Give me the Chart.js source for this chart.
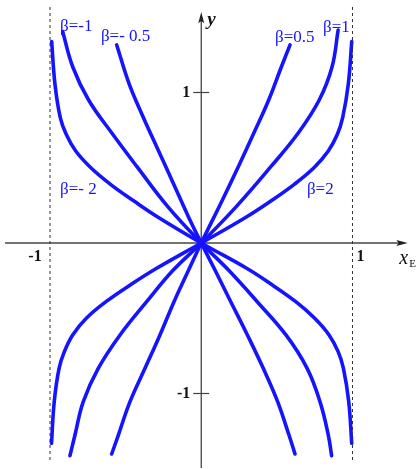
<!DOCTYPE html>
<html><head><meta charset="utf-8">
<script src="https://cdn.jsdelivr.net/npm/chart.js@4"></script>
<style>html,body{margin:0;padding:0;background:#fff}#wrap{width:419px;height:469px;position:relative}</style>
</head><body><div id="wrap"><canvas id="c"></canvas></div>
<script>
// Curve data (x_E, y), each curve runs from its lower end through the origin to its upper end
const betaLabels = ["β=2", "β=1", "β=0.5", "β=- 2", "β=-1", "β=- 0.5"];
const xBeta2 = [-0.990,-0.972,-0.940,-0.905,-0.850,-0.760,-0.630,-0.470,-0.295,0,0.290,0.460,0.615,0.745,0.840,0.900,0.935,0.972,0.995];
const yBeta2 = [-1.331,-1.054,-0.833,-0.722,-0.611,-0.500,-0.390,-0.279,-0.168,0,0.168,0.279,0.390,0.500,0.611,0.722,0.833,1.054,1.338];
const xBeta1 = [-0.868,-0.835,-0.780,-0.681,-0.537,-0.361,-0.185,0,0.230,0.460,0.640,0.780,0.865,0.905];
const yBeta1 = [-1.413,-1.276,-1.054,-0.833,-0.611,-0.390,-0.180,0,0.240,0.507,0.729,0.950,1.171,1.415];
const xBeta05 = [-0.592,-0.548,-0.471,-0.372,-0.273,-0.180,-0.078,0,0.140,0.245,0.347,0.446,0.530,0.587];
const yBeta05 = [-1.402,-1.276,-1.054,-0.833,-0.611,-0.390,-0.168,0,0.286,0.507,0.729,0.950,1.171,1.316];
const xBetaM2 = [0.995,0.975,0.940,0.905,0.845,0.750,0.625,0.470,0.300,0,-0.280,-0.445,-0.600,-0.730,-0.830,-0.893,-0.932,-0.967,-0.989];
const yBetaM2 = [-1.331,-1.054,-0.833,-0.722,-0.611,-0.500,-0.390,-0.279,-0.168,0,0.168,0.279,0.390,0.500,0.611,0.722,0.833,1.054,1.338];
const xBetaM1 = [0.862,0.840,0.785,0.700,0.560,0.370,0.180,0,-0.220,-0.425,-0.590,-0.745,-0.850,-0.916];
const yBetaM1 = [-1.413,-1.276,-1.054,-0.833,-0.611,-0.390,-0.180,0,0.240,0.507,0.729,0.950,1.171,1.404];
const xBetaM05 = [0.620,0.580,0.505,0.410,0.305,0.195,0.085,0,-0.085,-0.185,-0.285,-0.385,-0.478,-0.559];
const yBetaM05 = [-1.402,-1.276,-1.054,-0.833,-0.611,-0.390,-0.168,0,0.175,0.397,0.618,0.839,1.061,1.316];
// asymptote lines x_E = ±1
const asymX = [-1, 1];
const asymY = [-1.442, 1.568];
// tick labels
const xTicks = [-1, 1];
const yTicks = [-1, 1];

const curvesX = [xBeta2, xBeta1, xBeta05, xBetaM2, xBetaM1, xBetaM05];
const curvesY = [yBeta2, yBeta1, yBeta05, yBetaM2, yBetaM1, yBetaM05];
const zip = (xs, ys) => xs.map((x, i) => ({x, y: ys[i]}));
const BLUE = '#1414ff';

const datasets = [];
asymX.forEach(v => datasets.push({
  data: zip([v, v], asymY), showLine: true, borderColor: '#333', borderWidth: 1,
  borderDash: [3, 3], pointRadius: 0, tension: 0
}));
curvesX.forEach((xs, i) => datasets.push({
  label: betaLabels[i], data: zip(xs, curvesY[i]), showLine: true, borderColor: BLUE,
  borderWidth: 3.6, pointRadius: 0, tension: 0.4, borderCapStyle: 'round', borderJoinStyle: 'round'
}));

const labelPos = [
  {t: "β=2", x: 0.699, y: 0.326}, {t: "β=1", x: 0.805, y: 1.402}, {t: "β=0.5", x: 0.488, y: 1.336},
  {t: "β=- 2", x: -0.934, y: 0.326}, {t: "β=-1", x: -0.934, y: 1.409}, {t: "β=- 0.5", x: -0.663, y: 1.342}
];

const axesPlugin = {
  id: 'axes',
  beforeDatasetsDraw(chart) {
    const {ctx, scales: {x, y}} = chart;
    const X = v => x.getPixelForValue(v), Y = v => y.getPixelForValue(v);
    ctx.save();
    ctx.strokeStyle = '#444'; ctx.fillStyle = '#222'; ctx.lineWidth = 1.3;
    // x axis
    ctx.beginPath(); ctx.moveTo(X(-1.297), Y(0)); ctx.lineTo(X(1.33), Y(0)); ctx.stroke();
    ctx.beginPath(); ctx.moveTo(X(1.365), Y(0)); ctx.lineTo(X(1.29), Y(0) - 3); ctx.lineTo(X(1.305), Y(0)); ctx.lineTo(X(1.29), Y(0) + 3); ctx.closePath(); ctx.fill();
    // y axis
    ctx.beginPath(); ctx.moveTo(X(0), Y(-1.495)); ctx.lineTo(X(0), Y(1.48)); ctx.stroke();
    ctx.beginPath(); ctx.moveTo(X(0), Y(1.535)); ctx.lineTo(X(0) - 3, Y(1.46)); ctx.lineTo(X(0), Y(1.475)); ctx.lineTo(X(0) + 3, Y(1.46)); ctx.closePath(); ctx.fill();
    // y ticks
    ctx.lineWidth = 1.2;
    yTicks.forEach(v => { ctx.beginPath(); ctx.moveTo(X(0) - 8, Y(v)); ctx.lineTo(X(0) + 8, Y(v)); ctx.stroke(); });
    // tick labels
    ctx.fillStyle = '#111';
    ctx.font = 'bold 16px "Liberation Serif"';
    ctx.textBaseline = 'middle';
    ctx.textAlign = 'right';
    yTicks.forEach(v => ctx.fillText(String(v), X(0) - 11, Y(v)));
    ctx.textAlign = 'center';
    ctx.fillText(String(xTicks[0]), X(xTicks[0]) - 15, Y(0) + 14);
    ctx.fillText(String(xTicks[1]), X(xTicks[1]) + 8, Y(0) + 14);
    // axis titles
    ctx.textAlign = 'left'; ctx.textBaseline = 'alphabetic';
    ctx.font = 'italic bold 19px "Liberation Serif"';
    ctx.fillText('y', X(0) + 6, Y(0) - 218);
    ctx.font = 'italic 20px "Liberation Serif"';
    ctx.fillText('x', X(0) + 198, Y(0) + 21);
    ctx.font = '11px "Liberation Serif"';
    ctx.fillText('E', X(0) + 208, Y(0) + 24);
    ctx.restore();
  },
  afterDatasetsDraw(chart) {
    const {ctx, scales: {x, y}} = chart;
    ctx.save();
    ctx.fillStyle = BLUE;
    ctx.font = '17px "Liberation Serif"';
    ctx.textAlign = 'left'; ctx.textBaseline = 'alphabetic';
    labelPos.forEach(l => ctx.fillText(l.t, x.getPixelForValue(l.x), y.getPixelForValue(l.y)));
    ctx.restore();
  }
};

new Chart(document.getElementById('c'), {
  type: 'scatter',
  data: {datasets},
  options: {
    responsive: true, maintainAspectRatio: false, animation: false,
    layout: {padding: 0},
    plugins: {legend: {display: false}, tooltip: {enabled: false}},
    scales: {
      x: {type: 'linear', display: false, min: -1.3306, max: 1.4397},
      y: {type: 'linear', display: false, min: -1.5017, max: 1.6146}
    }
  },
  plugins: [axesPlugin]
});
</script></body></html>
